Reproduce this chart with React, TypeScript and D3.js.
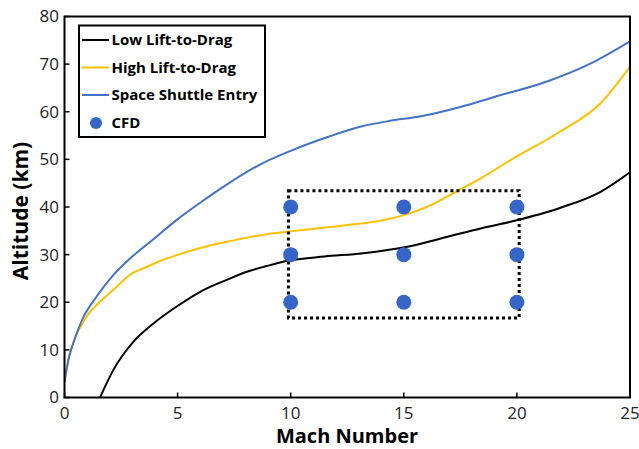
import React from "react";
import * as d3 from "d3";

// Mach number / altitude samples for each entry trajectory
const lowLDMach = [1.57, 2.16, 3.04, 4.0, 4.96, 6.0, 7.17, 8.0, 8.94, 9.97, 11.5, 13.2, 15.1, 16.9, 18.4, 19.8, 21.9, 23.7, 25];
const lowLDAlt = [0, 5.8, 11.7, 15.8, 19.1, 22.2, 24.7, 26.3, 27.6, 28.8, 29.6, 30.3, 31.6, 33.7, 35.5, 37.0, 39.8, 43.2, 47.3];

const highLDMach = [0, 0.2, 0.39, 0.7, 1.05, 1.57, 2.2, 3.0, 3.48, 4.2, 4.96, 6.0, 7.17, 8.94, 10.4, 12.5, 13.95, 15.0, 16.2, 17.3, 18.4, 19.7, 21.9, 23.7, 25];
const highLDAlt = [3.2, 8.5, 11.6, 14.8, 17.5, 20.1, 22.8, 26.1, 27.1, 28.6, 29.9, 31.4, 32.7, 34.3, 35.1, 36.2, 37.1, 38.3, 40.4, 43.2, 46.0, 49.8, 55.8, 61.8, 69.5];

const shuttleMach = [0, 0.2, 0.39, 0.8, 1.42, 2.1, 2.9, 4.0, 4.96, 6.0, 7.17, 8.6, 10.0, 11.7, 13.2, 14.4, 15.7, 17.5, 19.0, 21.3, 23.2, 25];
const shuttleAlt = [3.3, 8.5, 11.4, 16.5, 21.2, 25.4, 29.2, 33.5, 37.3, 40.9, 44.7, 48.8, 51.8, 54.8, 57.0, 58.1, 59.0, 61.0, 63.1, 66.3, 70.0, 74.8];

const cfdMach = [10, 10, 10, 15, 15, 15, 20, 20, 20];
const cfdAlt = [20, 30, 40, 20, 30, 40, 20, 30, 40];

// Test envelope drawn as a dotted box
const envelopeMach = [9.9, 20.1];
const envelopeAlt = [16.7, 43.4];

const xTicks = [0, 5, 10, 15, 20, 25];
const yTicks = [0, 10, 20, 30, 40, 50, 60, 70, 80];

const legendLabels = ["Low Lift-to-Drag", "High Lift-to-Drag", "Space Shuttle Entry", "CFD"];
const seriesColors = ["#000000", "#FFC000", "#4472C4"];
const cfdColor = "#3565C6";

const W = 639;
const H = 449;
const plot = { left: 64.5, right: 630, top: 16.5, bottom: 397.5 };

export default function App() {
  const x = d3.scaleLinear().domain([0, 25]).range([plot.left, plot.right]);
  const y = d3.scaleLinear().domain([0, 80]).range([plot.bottom, plot.top]);

  const line = d3
    .line<[number, number]>()
    .x((d) => x(d[0]))
    .y((d) => y(d[1]))
    .curve(d3.curveMonotoneX);

  const series = [
    d3.zip(lowLDMach, lowLDAlt) as [number, number][],
    d3.zip(highLDMach, highLDAlt) as [number, number][],
    d3.zip(shuttleMach, shuttleAlt) as [number, number][],
  ];

  const font = "'Open Sans', sans-serif";
  const legendRows = [40, 67.5, 95, 123];

  return (
    <svg
      width={W}
      height={H}
      style={{ position: "absolute", left: 0, top: 0, background: "#fff" }}
      fontFamily={font}
    >
      <defs>
        <clipPath id="plotClip">
          <rect x={plot.left} y={plot.top} width={plot.right - plot.left} height={plot.bottom - plot.top} />
        </clipPath>
      </defs>

      {/* tick marks (inside) and labels */}
      {xTicks.map((t) => (
        <g key={"x" + t}>
          <line x1={x(t)} x2={x(t)} y1={plot.bottom} y2={plot.bottom - 5} stroke="#000" strokeWidth={1.5} />
          <text x={x(t)} y={419} textAnchor="middle" fontSize={17} fill="#222">
            {t}
          </text>
        </g>
      ))}
      {yTicks.map((t) => (
        <g key={"y" + t}>
          <line x1={plot.left} x2={plot.left + 5} y1={y(t)} y2={y(t)} stroke="#000" strokeWidth={1.5} />
          <text x={59} y={y(t)} dy="0.35em" textAnchor="end" fontSize={17} fill="#222">
            {t}
          </text>
        </g>
      ))}

      {/* trajectories */}
      <g clipPath="url(#plotClip)">
        {series.map((s, i) => (
          <path key={i} d={line(s) ?? ""} fill="none" stroke={seriesColors[i]} strokeWidth={2} />
        ))}
      </g>

      {/* envelope box */}
      <rect
        x={x(envelopeMach[0])}
        y={y(envelopeAlt[1])}
        width={x(envelopeMach[1]) - x(envelopeMach[0])}
        height={y(envelopeAlt[0]) - y(envelopeAlt[1])}
        fill="none"
        stroke="#000"
        strokeWidth={3}
        strokeDasharray="3 3"
      />

      {/* CFD points */}
      {cfdMach.map((m, i) => (
        <circle key={"c" + i} cx={x(m)} cy={y(cfdAlt[i])} r={7.5} fill={cfdColor} />
      ))}

      {/* frame */}
      <rect
        x={plot.left}
        y={plot.top}
        width={plot.right - plot.left}
        height={plot.bottom - plot.top}
        fill="none"
        stroke="#000"
        strokeWidth={2}
      />

      {/* legend */}
      <rect x={79} y={25.5} width={186} height={111.5} fill="#fff" stroke="#000" strokeWidth={2} />
      {legendLabels.map((label, i) => (
        <g key={label}>
          {i < 3 ? (
            <line x1={82} x2={109} y1={legendRows[i]} y2={legendRows[i]} stroke={seriesColors[i]} strokeWidth={2} />
          ) : (
            <circle cx={96} cy={legendRows[i]} r={6} fill={cfdColor} />
          )}
          <text x={111.5} y={legendRows[i]} dy="0.35em" fontSize={15} fontWeight="bold" fill="#000">
            {label}
          </text>
        </g>
      ))}

      {/* axis titles */}
      <text x={347} y={443} textAnchor="middle" fontSize={20} fontWeight="bold" fill="#000">
        Mach Number
      </text>
      <text
        transform={`translate(28, 211) rotate(-90)`}
        textAnchor="middle"
        fontSize={21}
        fontWeight="bold"
        fill="#000"
      >
        Altitude (km)
      </text>
    </svg>
  );
}
